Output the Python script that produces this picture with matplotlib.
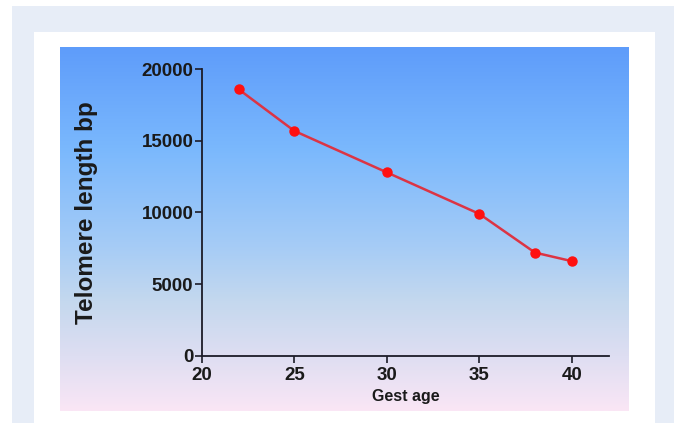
import numpy as np
import matplotlib
matplotlib.use("Agg")
import matplotlib.pyplot as plt
from matplotlib.patches import Rectangle

gest_age = [22, 25, 30, 35, 38, 40]
telomere_bp = [18600, 15700, 12800, 9900, 7200, 6600]
x_ticks = [20, 25, 30, 35, 40]
y_ticks = [0, 5000, 10000, 15000, 20000]

W, H = 677, 423
plt.rcParams['font.family'] = ['Liberation Sans', 'DejaVu Sans']

fig = plt.figure(figsize=(W / 100, H / 100), dpi=100)
fig.patch.set_facecolor('white')


def px_rect(x0, y0, x1, y1, color):
    # pixel box (top-left origin) -> figure fraction
    fig.add_artist(Rectangle((x0 / W, 1 - y1 / H), (x1 - x0) / W, (y1 - y0) / H,
                             transform=fig.transFigure, facecolor=color,
                             edgecolor='none', zorder=-10))


px_rect(12, 6, 674, 423, '#e7edf7')
px_rect(34, 32, 655, 423, 'white')

# gradient panel behind the plot
bg = fig.add_axes([60 / W, 1 - 411 / H, 569 / W, 364 / H], zorder=-5)
bg.axis('off')
stops = np.array([0.0, 0.28, 0.55, 0.7, 0.85, 1.0])
cols = np.array([
    [94, 156, 250],
    [122, 184, 253],
    [166, 204, 246],
    [196, 216, 238],
    [222, 222, 242],
    [250, 230, 245],
]) / 255.0
t = np.linspace(0, 1, 300)
grad = np.stack([np.interp(t, stops, cols[:, k]) for k in range(3)], axis=1)
bg.imshow(grad[:, None, :], aspect='auto', extent=[0, 1, 0, 1])

ax = fig.add_axes([201.7 / W, 1 - 355.7 / H, (609 - 201.7) / W, (355.7 - 69.3) / H])
ax.patch.set_alpha(0)
ax.plot(gest_age, telomere_bp, color='#dc3444', lw=1.8, marker='o',
        markersize=6.5, markerfacecolor='#ff1010', markeredgecolor='#ff1010',
        clip_on=False)

ax.set_xlim(20, 42)
ax.set_ylim(0, 20000)
ax.set_xticks(x_ticks)
ax.set_yticks(y_ticks)
for s in ['top', 'right']:
    ax.spines[s].set_visible(False)
for s in ['left', 'bottom']:
    ax.spines[s].set_color('#1c1c28')
    ax.spines[s].set_linewidth(1.3)
ax.tick_params(length=5, width=1.2, color='#1c1c28', labelcolor='#1a1a1a',
               labelsize=13.5)
ax.tick_params(axis='y', pad=1)
ax.tick_params(axis='x', pad=3)
for lbl in ax.get_xticklabels() + ax.get_yticklabels():
    lbl.set_fontweight('bold')

ax.set_ylabel('Telomere length bp', fontsize=17.5, fontweight='bold',
              color='#1a1a1a', labelpad=31)
ax.set_xlabel('Gest age', fontsize=11.5, fontweight='bold', color='#1a1a1a',
              labelpad=4)

fig.savefig('out.png', dpi=100)
